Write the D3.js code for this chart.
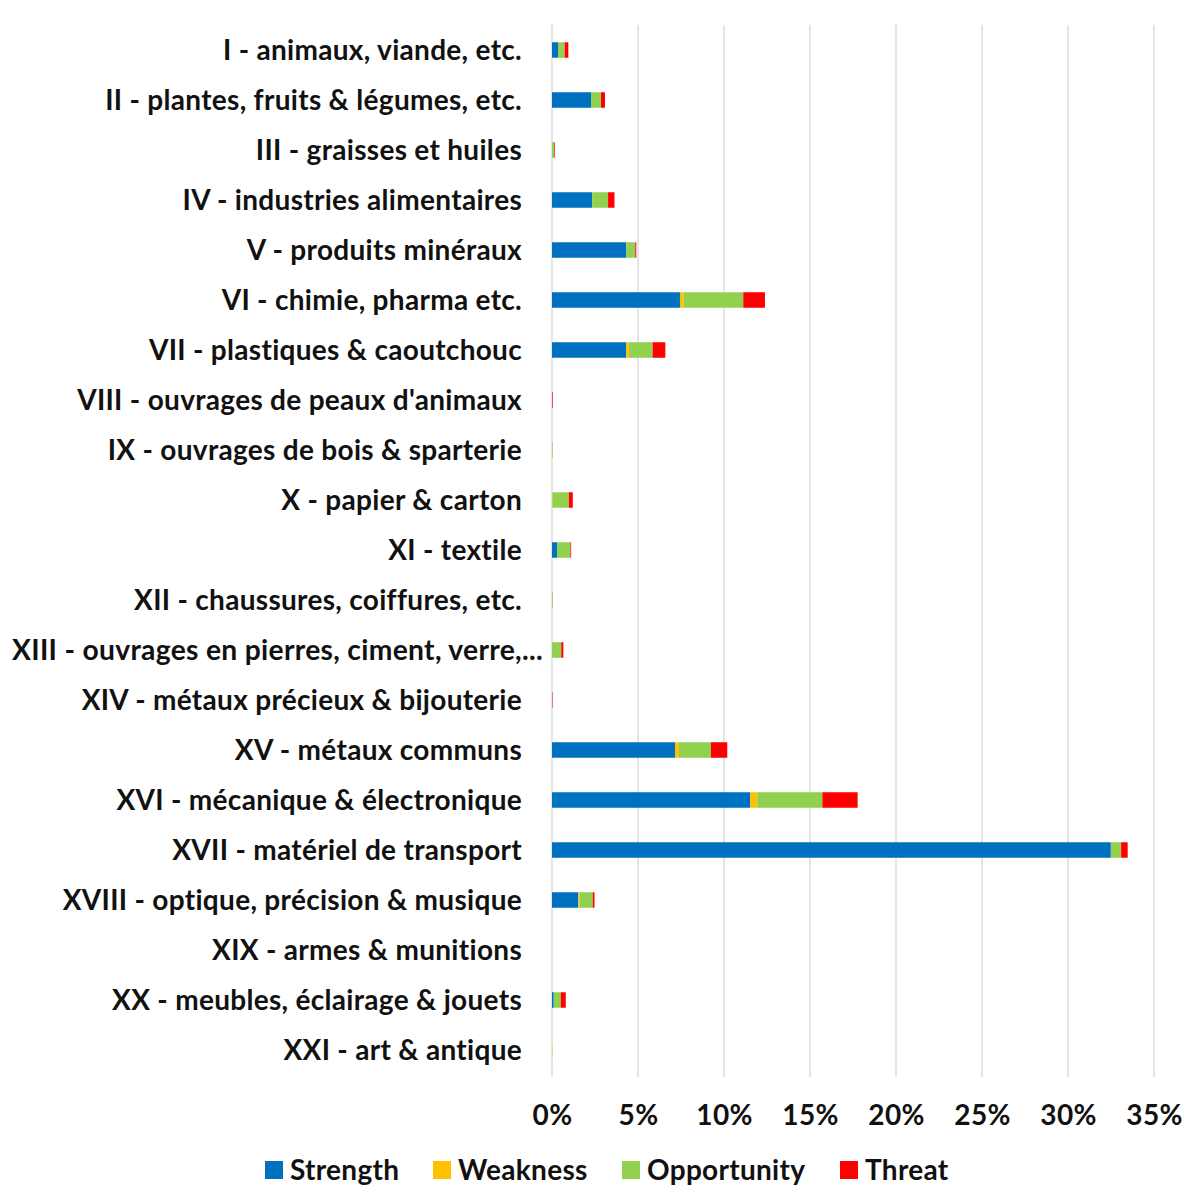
<!DOCTYPE html>
<html>
<head>
<meta charset="utf-8">
<script src="https://cdn.jsdelivr.net/npm/d3@7"></script>
<style>
  html, body { margin: 0; padding: 0; background: #fff; }
  svg { display: block; }
  text { font-family: Lato, "Open Sans", sans-serif; font-weight: 700; fill: #111; letter-spacing: 0.3px; }
</style>
</head>
<body>
<svg id="chart" width="1196" height="1198"></svg>
<script>
const categories = [
  "I - animaux, viande, etc.",
  "II - plantes, fruits & légumes, etc.",
  "III - graisses et huiles",
  "IV - industries alimentaires",
  "V - produits minéraux",
  "VI - chimie, pharma etc.",
  "VII - plastiques & caoutchouc",
  "VIII - ouvrages de peaux d'animaux",
  "IX - ouvrages de bois & sparterie",
  "X - papier & carton",
  "XI - textile",
  "XII - chaussures, coiffures, etc.",
  "XIII - ouvrages en pierres, ciment, verre,...",
  "XIV - métaux précieux & bijouterie",
  "XV - métaux communs",
  "XVI - mécanique & électronique",
  "XVII - matériel de transport",
  "XVIII - optique, précision & musique",
  "XIX - armes & munitions",
  "XX - meubles, éclairage & jouets",
  "XXI - art & antique"
];
const strength    = [0.35, 2.27, 0, 2.33, 4.32, 7.44, 4.32, 0, 0, 0, 0.29, 0, 0, 0, 7.15, 11.53, 32.49, 1.53, 0, 0.10, 0];
const weakness    = [0, 0, 0, 0, 0, 0.21, 0.15, 0, 0, 0.03, 0, 0, 0, 0, 0.23, 0.41, 0, 0.06, 0, 0, 0.02];
const opportunity = [0.39, 0.58, 0.12, 0.93, 0.52, 3.47, 1.38, 0, 0.04, 0.95, 0.78, 0.05, 0.54, 0, 1.86, 3.78, 0.60, 0.78, 0, 0.41, 0];
const threat      = [0.21, 0.23, 0.04, 0.37, 0.06, 1.26, 0.74, 0.04, 0, 0.23, 0.04, 0, 0.12, 0.03, 0.95, 2.05, 0.38, 0.10, 0, 0.29, 0];
const seriesNames = ["Strength", "Weakness", "Opportunity", "Threat"];
const seriesColors = ["#0070C0", "#FFC000", "#92D050", "#FF0000"];
const tickValues = [0, 5, 10, 15, 20, 25, 30, 35];

const svg = d3.select("#chart");
const rows = categories.map((c, i) => ({
  cat: c, Strength: strength[i], Weakness: weakness[i], Opportunity: opportunity[i], Threat: threat[i]
}));

const x = d3.scaleLinear().domain([0, 35]).range([552, 1154]);
const y = d3.scaleBand().domain(categories).range([25, 1075]).paddingInner(0.69).paddingOuter(0.345);

// gridlines
svg.append("g").selectAll("line").data(tickValues).join("line")
  .attr("x1", d => x(d)).attr("x2", d => x(d))
  .attr("y1", 25).attr("y2", 1077)
  .attr("stroke", "#d9d9d9").attr("stroke-width", 1.3);

const stack = d3.stack().keys(seriesNames)(rows);
const color = d3.scaleOrdinal().domain(seriesNames).range(seriesColors);

svg.append("g").selectAll("g").data(stack).join("g")
  .attr("fill", d => color(d.key))
  .selectAll("rect").data(d => d).join("rect")
  .attr("x", d => x(d[0]))
  .attr("width", d => Math.max(0, x(d[1]) - x(d[0])))
  .attr("y", d => y(d.data.cat))
  .attr("height", y.bandwidth());

// category labels
const yAxis = d3.axisLeft(y).tickSize(0).tickPadding(0);
const ya = svg.append("g").attr("transform", "translate(522,0)").call(yAxis);
ya.select(".domain").remove();
ya.selectAll("text").attr("font-size", 28).attr("dy", "0.35em")
  .each(function () {
    const w = this.getComputedTextLength();
    if (w > 505) {
      // over-long label: spans from the left edge past the axis, as in the reference
      d3.select(this).attr("text-anchor", "start").attr("x", 12 - 522)
        .attr("textLength", 531).attr("lengthAdjust", "spacingAndGlyphs");
    }
  });

// x axis labels
const xAxis = d3.axisBottom(x).tickValues(tickValues).tickFormat(d => d + "%").tickSize(0).tickPadding(0);
const xa = svg.append("g").attr("transform", "translate(0,1105)").call(xAxis);
xa.select(".domain").remove();
xa.selectAll("text").attr("font-size", 28).attr("dy", "0.35em").attr("y", 10);

// legend
const legendX = [265, 433, 622, 840];
const lg = svg.append("g").selectAll("g").data(seriesNames).join("g")
  .attr("transform", (d, i) => `translate(${legendX[i]},1161)`);
lg.append("rect").attr("width", 18).attr("height", 18).attr("fill", d => color(d));
lg.append("text").attr("x", 25).attr("y", 9).attr("dy", "0.35em")
  .attr("font-size", 28).text(d => d);
</script>
</body>
</html>
